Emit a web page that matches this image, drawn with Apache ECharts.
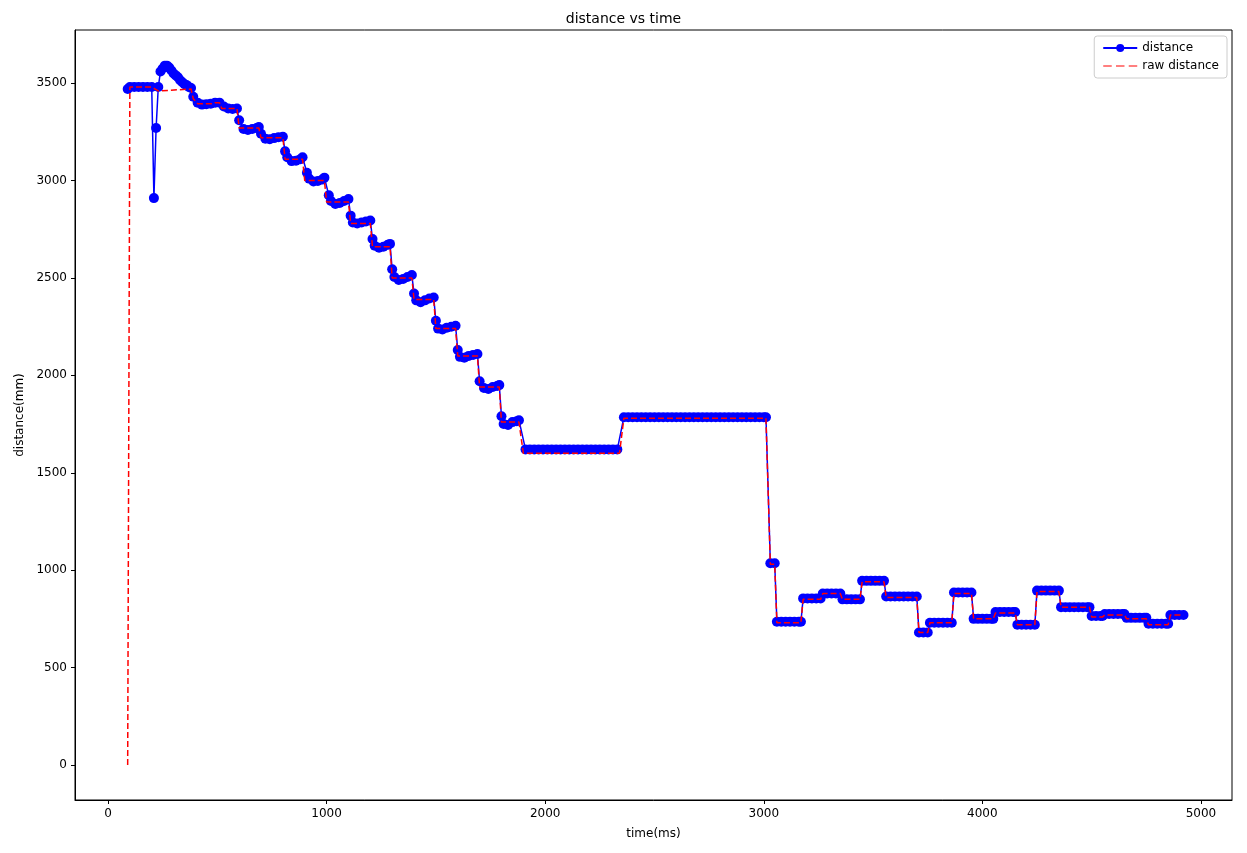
<!DOCTYPE html>
<html><head><meta charset="utf-8">
<script src="https://cdn.jsdelivr.net/npm/echarts@6/dist/echarts.min.js"></script>
<style>html,body{margin:0;padding:0;background:#fff}#c{width:1247px;height:853px}</style>
</head><body><div id="c"></div>
<script>
const xTicks = [0, 1000, 2000, 3000, 4000, 5000];
const yTicks = [0, 500, 1000, 1500, 2000, 2500, 3000, 3500];
// filtered distance [time(ms), mm]
const distance = [
[90,3470],[100,3480],[120,3480],[140,3480],[160,3480],[180,3480],[200,3480],[210,2910],[220,3270],[230,3480],[240,3560],[250,3575],[260,3590],[270,3590],[280,3580],[290,3565],[300,3550],[310,3540],[320,3530],[330,3515],[340,3505],[350,3495],[360,3490],[370,3480],[380,3475],
[390,3430],[410,3400],[430,3390],[450,3392],[470,3395],[490,3400],[510,3400],
[530,3380],[550,3370],[570,3368],[590,3370],
[600,3310],[620,3265],[640,3260],[660,3265],[680,3270],[690,3275],
[700,3240],[720,3215],[740,3212],[760,3218],[780,3222],[800,3225],
[810,3150],[820,3120],[840,3100],[860,3102],[880,3110],[890,3120],
[910,3040],[920,3010],[940,2995],[960,2998],[980,3005],[990,3015],
[1010,2925],[1020,2895],[1040,2880],[1060,2885],[1080,2895],[1100,2905],
[1110,2820],[1120,2785],[1140,2780],[1160,2785],[1180,2790],[1200,2795],
[1210,2700],[1220,2665],[1240,2655],[1260,2660],[1280,2670],[1290,2675],
[1300,2545],[1310,2505],[1330,2490],[1350,2495],[1370,2505],[1390,2515],
[1400,2420],[1410,2385],[1430,2375],[1450,2385],[1470,2395],[1490,2400],
[1500,2280],[1510,2240],[1530,2235],[1550,2245],[1570,2250],[1590,2255],
[1600,2130],[1610,2095],[1630,2090],[1650,2100],[1670,2105],[1690,2110],
[1700,1970],[1720,1935],[1740,1930],[1760,1940],[1780,1945],[1790,1950],
[1800,1790],[1810,1750],[1830,1745],[1850,1760],[1870,1765],[1880,1770],
[1910,1620],[1930,1620],[1950,1620],[1970,1620],[1990,1620],[2010,1620],[2030,1620],[2050,1620],[2070,1620],[2090,1620],[2110,1620],[2130,1620],[2150,1620],[2170,1620],[2190,1620],[2210,1620],[2230,1620],[2250,1620],[2270,1620],[2290,1620],[2310,1620],[2330,1620],
[2360,1785],[2380,1785],[2400,1785],[2420,1785],[2440,1785],[2460,1785],[2480,1785],[2500,1785],[2520,1785],[2540,1785],[2560,1785],[2580,1785],[2600,1785],[2620,1785],[2640,1785],[2660,1785],[2680,1785],[2700,1785],[2720,1785],[2740,1785],[2760,1785],[2780,1785],[2800,1785],[2820,1785],[2840,1785],[2860,1785],[2880,1785],[2900,1785],[2920,1785],[2940,1785],[2960,1785],[2980,1785],[3000,1785],[3010,1785],
[3030,1035],[3050,1035],
[3060,735],[3080,735],[3100,735],[3120,735],[3140,735],[3160,735],[3170,735],
[3180,855],[3200,855],[3220,855],[3240,855],[3260,855],
[3270,880],[3290,880],[3310,880],[3330,880],[3350,880],
[3360,850],[3380,850],[3400,850],[3420,850],[3440,850],
[3450,945],[3470,945],[3490,945],[3510,945],[3530,945],[3550,945],
[3560,865],[3580,865],[3600,865],[3620,865],[3640,865],[3660,865],[3680,865],[3700,865],
[3710,680],[3730,680],[3750,680],
[3760,730],[3780,730],[3800,730],[3820,730],[3840,730],[3860,730],
[3870,885],[3890,885],[3910,885],[3930,885],[3950,885],
[3960,750],[3980,750],[4000,750],[4020,750],[4040,750],[4050,750],
[4060,785],[4080,785],[4100,785],[4120,785],[4140,785],[4150,785],
[4160,720],[4180,720],[4200,720],[4220,720],[4240,720],
[4250,895],[4270,895],[4290,895],[4310,895],[4330,895],[4350,895],
[4360,810],[4380,810],[4400,810],[4420,810],[4440,810],[4460,810],[4480,810],[4490,810],
[4500,765],[4520,765],[4540,765],[4550,765],
[4560,775],[4580,775],[4600,775],[4620,775],[4640,775],[4650,775],
[4660,755],[4680,755],[4700,755],[4720,755],[4740,755],[4750,755],
[4760,725],[4780,725],[4800,725],[4820,725],[4840,725],[4850,725],
[4860,770],[4880,770],[4900,770],[4920,770]
];
// raw distance steps [time(ms), mm]
const rawDistance = [
[90,0],[100,3480],[200,3480],[230,3460],[380,3470],[390,3420],[410,3395],[480,3395],[490,3400],[510,3400],[520,3370],[590,3370],
[600,3270],[690,3270],[700,3220],[800,3220],[810,3110],[890,3110],[900,3000],[990,3000],[1000,2890],[1100,2890],
[1110,2780],[1200,2780],[1210,2660],[1290,2660],[1300,2500],[1390,2500],[1400,2390],[1490,2390],[1500,2240],[1590,2240],
[1600,2100],[1690,2100],[1700,1940],[1790,1940],[1800,1760],[1880,1760],[1900,1600],[2340,1600],[2360,1780],[3010,1780],
[3030,1030],[3050,1030],[3060,730],[3170,730],[3180,850],[3260,850],[3270,880],[3350,880],[3360,850],[3440,850],
[3450,940],[3550,940],[3560,860],[3700,860],[3710,680],[3750,680],[3760,730],[3860,730],[3870,880],[3950,880],
[3960,750],[4050,750],[4060,780],[4150,780],[4160,720],[4240,720],[4250,890],[4350,890],[4360,810],[4490,810],
[4500,760],[4550,760],[4560,770],[4650,770],[4660,750],[4750,750],[4760,720],[4850,720],[4860,770],[4920,770]
];
const chart = echarts.init(document.getElementById('c'));
const font = 'DejaVu Sans';
const plain = v => String(v);
chart.setOption({
  animation:false,
  textStyle:{fontFamily:font},
  title:{text:'distance vs time',left:'center',top:7,textStyle:{fontSize:14,fontWeight:'normal',color:'#000',fontFamily:font}},
  legend:{top:36,right:20,orient:'vertical',itemGap:6,itemWidth:34,itemHeight:10,backgroundColor:'#fff',borderColor:'#ccc',borderWidth:1,borderRadius:3,padding:[6,8],textStyle:{fontSize:12,color:'#000',fontFamily:font},
    data:[{name:'distance'},{name:'raw distance',icon:'path://M0,0L8,0L8,1L0,1Z M12,0L20,0L20,1L12,1Z M24,0L32,0L32,1L24,1Z'}]},
  grid:{left:75,right:15,top:30,bottom:53,containLabel:false},
  xAxis:{type:'value',min:-151,max:5142,name:'time(ms)',nameLocation:'middle',nameGap:28,nameTextStyle:{fontSize:12,color:'#000'},
    splitLine:{show:false},axisLine:{onZero:false,lineStyle:{color:'#000'}},
    axisTick:{show:true,customValues:xTicks,length:4,lineStyle:{color:'#000'}},
    axisLabel:{customValues:xTicks,formatter:plain,color:'#000',fontSize:12,margin:8}},
  yAxis:{type:'value',min:-180,max:3773,name:'distance(mm)',nameLocation:'middle',nameGap:48,nameTextStyle:{fontSize:12,color:'#000'},
    splitLine:{show:false},axisLine:{show:true,onZero:false,lineStyle:{color:'#000'}},
    axisTick:{show:true,customValues:yTicks,length:4,lineStyle:{color:'#000'}},
    axisLabel:{customValues:yTicks,formatter:plain,color:'#000',fontSize:12,margin:8}},
  graphic:[{type:'rect',shape:{x:75,y:30,width:1157,height:770},style:{fill:'none',stroke:'#000',lineWidth:1},silent:true,z:100}],
  series:[
    {name:'distance',type:'line',data:distance,symbol:'circle',symbolSize:10,showAllSymbol:true,z:2,
      itemStyle:{color:'#0000ff'},lineStyle:{color:'#0000ff',width:1.5}},
    {name:'raw distance',type:'line',data:rawDistance,showSymbol:false,symbol:'none',z:5,
      itemStyle:{color:'#ff0000'},lineStyle:{color:'#ff0000',width:1.5,type:[6,3]}}
  ]
});
</script></body></html>
